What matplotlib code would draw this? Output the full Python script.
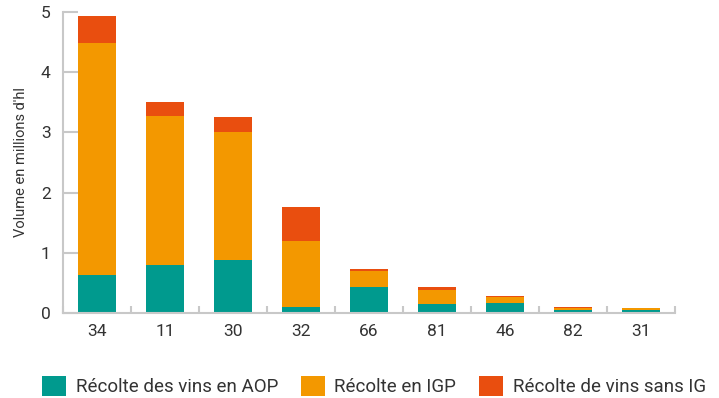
import matplotlib.pyplot as plt
import numpy as np
from matplotlib.patches import Patch

plt.rcParams["font.family"] = ["Roboto", "DejaVu Sans"]

# Volumes par département (millions d'hl)
departements = ["34", "11", "30", "32", "66", "81", "46", "82", "31"]
aop = [0.63, 0.80, 0.88, 0.10, 0.43, 0.155, 0.17, 0.05, 0.055]
igp = [3.86, 2.47, 2.12, 1.10, 0.27, 0.235, 0.10, 0.033, 0.023]
sans_ig = [0.44, 0.23, 0.26, 0.56, 0.03, 0.04, 0.02, 0.017, 0.01]

couleurs = ["#009A8E", "#F39800", "#E94E0F"]
libelles = ["Récolte des vins en AOP", "Récolte en IGP", "Récolte de vins sans IG"]
gris = "#c8c8c8"
texte = "#333333"

fig = plt.figure(figsize=(7.19, 3.98), dpi=100)
ax = fig.add_axes([63 / 719, 85 / 398, 612 / 719, 301 / 398])

x = np.arange(len(departements))
largeur = 0.57
bas = np.zeros(len(x))
for serie, couleur in zip([aop, igp, sans_ig], couleurs):
    ax.bar(x, serie, largeur, bottom=bas, color=couleur, linewidth=0)
    bas += np.asarray(serie)

ax.set_xlim(-0.5, len(x) - 0.5)
ax.set_ylim(0, 5)
ax.set_yticks(range(6))
ax.set_xticks(x)
ax.set_xticklabels(departements)
ax.set_xticks(np.arange(-0.5, len(x)), minor=True)

for cote in ["top", "right"]:
    ax.spines[cote].set_visible(False)
for cote in ["left", "bottom"]:
    ax.spines[cote].set_color(gris)
    ax.spines[cote].set_linewidth(1.5)

ax.tick_params(axis="y", direction="in", length=11, width=1.5, color=gris,
               labelsize=12.5, labelcolor=texte, pad=9)
ax.tick_params(axis="x", which="major", length=0, labelsize=12.5,
               labelcolor=texte, pad=8)
ax.tick_params(axis="x", which="minor", direction="in", length=5, width=1.5, color=gris)

ax.set_ylabel("Volume en millions d'hl", fontsize=10.5, color=texte, labelpad=9)

poignees = [Patch(facecolor=c, edgecolor="none") for c in couleurs]
fig.legend(poignees, libelles, loc="center", bbox_to_anchor=(0.52, 12 / 398),
           ncol=3, frameon=False, fontsize=13.5, handlelength=1.3, handleheight=1.3,
           handletextpad=0.5, columnspacing=1.2, labelcolor=texte)

fig.savefig("out.png", dpi=100)
